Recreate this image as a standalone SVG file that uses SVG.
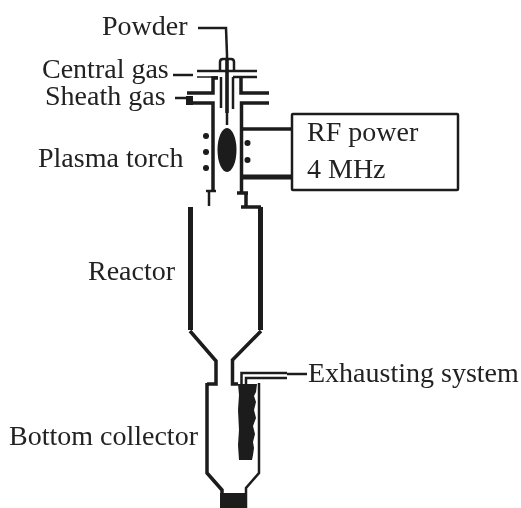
<svg xmlns="http://www.w3.org/2000/svg" width="521" height="508" viewBox="0 0 521 508">
<style>
text{font-family:"Liberation Serif","Times New Roman",serif;font-size:28px;fill:#222}
.l{fill:none;stroke:#1a1a1a;stroke-linejoin:miter}
.t1{stroke-width:1.5}.t2{stroke-width:2.5}.t3{stroke-width:3.500}.t4{stroke-width:5}
.f{fill:#1a1a1a}
</style>
<defs><filter id="soft" x="0" y="0" width="100%" height="100%"><feGaussianBlur stdDeviation="0.4"/></filter></defs>
<rect width="521" height="508" fill="#fff"/>
<g filter="url(#soft)">
<g id="torch">
<path class="l t2" d="M198 28H226L227 55V125"/>
<path class="l t3" d="M227 58V113"/>
<path class="l t2" d="M220 72V62Q220 59 223 59H231Q234 59 234 62V72"/>
<path class="l t2" d="M197 71H257"/>
<path class="l t1" d="M197 77H218"/>
<path class="l t2" d="M233 77H257"/>
<path class="l t3" d="M187 93H213V78H218"/>
<path class="l t3" d="M187 103H213V190"/>
<rect class="f" x="186" y="96" width="7" height="9"/>
<path class="l t2" d="M221 77V108M233 77V109"/>
<path class="l t3" d="M269 93H241V78"/>
<path class="l t3" d="M269 103H241.500V193"/>
<path class="l t2" d="M206 191H216M209 191V206"/>
<path class="l t3" d="M237 193H248M246 193V207"/>
<ellipse class="f" cx="227" cy="150" rx="9.500" ry="22"/>
<g class="f"><circle cx="206" cy="136" r="3"/><circle cx="206" cy="152" r="3"/><circle cx="206" cy="168" r="3"/><circle cx="247.500" cy="143" r="3"/><circle cx="247.500" cy="160" r="3"/></g>
<path class="l t3" d="M241 129H292"/>
<path class="l t4" d="M241 177H292"/>
</g>
<g id="rf-power">
<rect class="l t2" x="292" y="114" width="166" height="76" rx="1"/>
<text x="307" y="141">RF power</text>
<text x="307" y="178">4 MHz</text>
</g>
<g id="reactor">
<path class="l t3" d="M241 207H261"/>
<path class="l t4" d="M190.500 207V330M260.500 207V330"/>
<path class="l t3" d="M190 331L216 361V384H207"/>
<path class="l t3" d="M261 331L232.500 360V384H238"/>
</g>
<g id="collector">
<path class="l t3" d="M207 383V473L222 490V508"/>
<path class="l t2" d="M259 383V473L246 488V508"/>
<path class="f" d="M238 384H257L256 392L254 396L256 402L254 410L256 418L253 426L255 434L253 442L254 448L253 455L252 460L239 460L238 445L239 430L238 410L239 395Z"/>
<rect class="f" x="220" y="493" width="27" height="15"/>
</g>
<g id="connectors">
<path class="l t2" d="M173 75H193M175 98H192"/>
<path class="l t2" d="M241.500 384V373H287"/>
<path class="l t2" d="M246 384V378H287"/>
<path class="l t2" d="M287 374H307"/>
</g>
<g id="labels">
<text x="102" y="35">Powder</text>
<text x="42" y="77.500">Central gas</text>
<text x="45" y="105">Sheath gas</text>
<text x="38" y="167">Plasma torch</text>
<text x="88" y="280">Reactor</text>
<text x="308" y="382">Exhausting system</text>
<text x="9" y="445">Bottom collector</text>
</g>
</g>
</svg>
